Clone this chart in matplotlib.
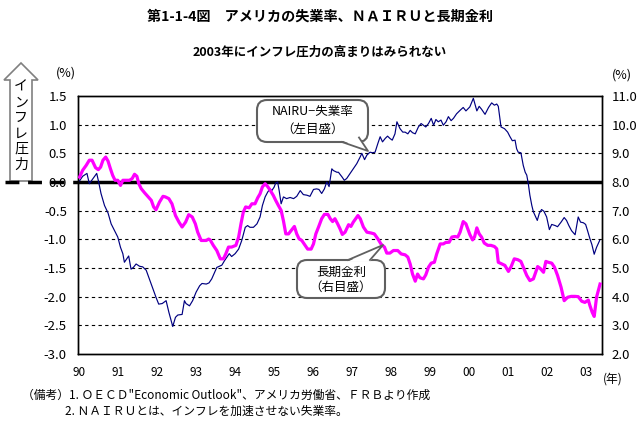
import numpy as np
import matplotlib.pyplot as plt
from matplotlib.patches import Polygon, FancyBboxPatch

plt.rcParams['font.family'] = ['Noto Sans CJK JP', 'DejaVu Sans']

# NAIRU - unemployment rate (left scale, %)
gap_t = [1990.01, 1990.09, 1990.20, 1990.26, 1990.45, 1990.50, 1990.56, 1990.65, 1990.74, 1990.82,
         1990.91, 1990.99, 1991.06, 1991.12, 1991.16, 1991.22, 1991.27, 1991.33, 1991.39, 1991.46,
         1991.55, 1991.63, 1991.72, 1991.80, 1991.89, 1991.97, 1992.04, 1992.13, 1992.23, 1992.30,
         1992.40, 1992.47, 1992.53, 1992.64, 1992.70, 1992.74, 1992.83, 1992.91, 1993.00, 1993.09,
         1993.15, 1993.26, 1993.33, 1993.40, 1993.53, 1993.66, 1993.73, 1993.79, 1993.85, 1993.91,
         1994.00, 1994.09, 1994.17, 1994.26, 1994.32, 1994.38, 1994.47, 1994.56, 1994.64, 1994.70,
         1994.77, 1994.84, 1994.90, 1994.94, 1995.00, 1995.04, 1995.09, 1995.13, 1995.18, 1995.24,
         1995.32, 1995.41, 1995.50, 1995.58, 1995.67, 1995.75, 1995.84, 1995.92, 1996.01, 1996.09,
         1996.15, 1996.22, 1996.29, 1996.35, 1996.41, 1996.48, 1996.52, 1996.61, 1996.65, 1996.74,
         1996.80, 1996.86, 1996.95, 1997.03, 1997.12, 1997.21, 1997.25, 1997.32, 1997.38, 1997.46,
         1997.52, 1997.59, 1997.66, 1997.72, 1997.78, 1997.85, 1997.91, 1997.97, 1998.03, 1998.10,
         1998.15, 1998.23, 1998.30, 1998.36, 1998.43, 1998.49, 1998.55, 1998.62, 1998.70, 1998.77,
         1998.83, 1998.89, 1998.96, 1999.03, 1999.09, 1999.15, 1999.21, 1999.28, 1999.34, 1999.41,
         1999.47, 1999.54, 1999.60, 1999.68, 1999.77, 1999.85, 1999.92, 2000.02, 2000.05, 2000.11,
         2000.20, 2000.26, 2000.32, 2000.41, 2000.50, 2000.58, 2000.65, 2000.71, 2000.75, 2000.82,
         2000.91, 2000.99, 2001.05, 2001.11, 2001.18, 2001.22, 2001.26, 2001.33, 2001.39, 2001.44,
         2001.48, 2001.52, 2001.56, 2001.61, 2001.65, 2001.69, 2001.75, 2001.80, 2001.86, 2001.92,
         2001.99, 2002.06, 2002.12, 2002.21, 2002.27, 2002.36, 2002.44, 2002.50, 2002.56, 2002.63,
         2002.72, 2002.80, 2002.86, 2002.93, 2002.99, 2003.04, 2003.10, 2003.15, 2003.21, 2003.27,
         2003.35]
gap = [0.02, 0.10, 0.15, -0.03, 0.15, 0.00, -0.20, -0.41, -0.54, -0.73,
       -0.85, -0.96, -1.14, -1.25, -1.40, -1.34, -1.29, -1.52, -1.49, -1.43,
       -1.47, -1.48, -1.54, -1.69, -1.86, -2.01, -2.13, -2.12, -2.07, -2.27,
       -2.52, -2.36, -2.32, -2.31, -2.07, -2.12, -2.16, -2.07, -1.92, -1.81,
       -1.77, -1.78, -1.76, -1.69, -1.49, -1.45, -1.37, -1.31, -1.25, -1.30,
       -1.25, -1.17, -1.02, -0.79, -0.76, -0.79, -0.79, -0.73, -0.61, -0.41,
       -0.26, -0.17, -0.12, -0.15, -0.09, -0.02, 0.00, -0.15, -0.38, -0.26,
       -0.29, -0.27, -0.29, -0.25, -0.15, -0.22, -0.23, -0.25, -0.13, -0.12,
       -0.13, -0.20, -0.12, 0.00, -0.08, 0.23, 0.20, 0.17, 0.17, 0.09,
       0.03, 0.06, 0.15, 0.23, 0.32, 0.44, 0.50, 0.39, 0.47, 0.52,
       0.51, 0.52, 0.67, 0.79, 0.70, 0.76, 0.80, 0.76, 0.73, 0.84,
       1.05, 0.93, 0.87, 0.87, 0.84, 0.90, 0.86, 0.84, 0.96, 1.02,
       0.99, 0.96, 1.02, 1.11, 0.99, 1.09, 1.05, 1.08, 0.99, 1.05,
       1.14, 1.07, 1.11, 1.19, 1.25, 1.30, 1.24, 1.31, 1.36, 1.46,
       1.24, 1.32, 1.27, 1.18, 1.30, 1.38, 1.34, 1.36, 1.32, 0.96,
       0.93, 0.87, 0.79, 0.72, 0.73, 0.58, 0.52, 0.51, 0.29, 0.17,
       0.12, -0.03, -0.23, -0.41, -0.52, -0.58, -0.67, -0.55, -0.48, -0.51,
       -0.61, -0.83, -0.74, -0.76, -0.78, -0.70, -0.62, -0.67, -0.76, -0.85,
       -0.92, -0.61, -0.70, -0.71, -0.74, -0.85, -0.99, -1.09, -1.26, -1.14,
       -1.02]

# long-term interest rate (right scale, %)
rate_t = [1990.01, 1990.09, 1990.18, 1990.26, 1990.33, 1990.42, 1990.49, 1990.55, 1990.61, 1990.68,
          1990.74, 1990.80, 1990.86, 1990.92, 1990.99, 1991.06, 1991.12, 1991.21, 1991.29, 1991.36,
          1991.42, 1991.48, 1991.53, 1991.59, 1991.68, 1991.76, 1991.85, 1991.91, 1991.97, 1992.06,
          1992.15, 1992.21, 1992.30, 1992.38, 1992.47, 1992.56, 1992.64, 1992.73, 1992.81, 1992.90,
          1992.98, 1993.04, 1993.13, 1993.26, 1993.32, 1993.36, 1993.44, 1993.53, 1993.62, 1993.70,
          1993.76, 1993.83, 1993.91, 1994.02, 1994.09, 1994.15, 1994.21, 1994.27, 1994.36, 1994.43,
          1994.51, 1994.58, 1994.64, 1994.70, 1994.77, 1994.84, 1994.90, 1994.98, 1995.04, 1995.11,
          1995.18, 1995.24, 1995.30, 1995.37, 1995.44, 1995.52, 1995.58, 1995.64, 1995.71, 1995.78,
          1995.86, 1995.95, 1996.01, 1996.07, 1996.14, 1996.22, 1996.29, 1996.38, 1996.44, 1996.50,
          1996.56, 1996.63, 1996.69, 1996.75, 1996.82, 1996.91, 1996.97, 1997.03, 1997.15, 1997.21,
          1997.29, 1997.38, 1997.49, 1997.57, 1997.66, 1997.74, 1997.83, 1997.89, 1997.97, 1998.06,
          1998.17, 1998.26, 1998.36, 1998.43, 1998.49, 1998.55, 1998.62, 1998.68, 1998.74, 1998.83,
          1998.89, 1998.96, 1999.03, 1999.11, 1999.17, 1999.26, 1999.34, 1999.40, 1999.49, 1999.56,
          1999.64, 1999.71, 1999.77, 1999.85, 1999.92, 2000.02, 2000.09, 2000.14, 2000.20, 2000.26,
          2000.32, 2000.39, 2000.48, 2000.56, 2000.65, 2000.71, 2000.75, 2000.84, 2000.92, 2001.01,
          2001.08, 2001.16, 2001.25, 2001.33, 2001.39, 2001.48, 2001.56, 2001.65, 2001.71, 2001.76,
          2001.82, 2001.91, 2001.97, 2002.03, 2002.12, 2002.19, 2002.27, 2002.36, 2002.44, 2002.53,
          2002.62, 2002.72, 2002.80, 2002.89, 2002.97, 2003.06, 2003.10, 2003.16, 2003.21, 2003.27,
          2003.36]
rate = [8.17, 8.41, 8.58, 8.76, 8.76, 8.50, 8.43, 8.52, 8.76, 8.87,
        8.73, 8.47, 8.23, 8.06, 8.06, 7.88, 8.06, 8.06, 8.06, 8.12,
        8.27, 8.20, 7.94, 7.77, 7.62, 7.50, 7.36, 7.13, 7.03, 7.30,
        7.50, 7.48, 7.42, 7.24, 6.83, 6.60, 6.43, 6.60, 6.86, 6.78,
        6.54, 6.25, 5.96, 5.96, 6.01, 5.98, 5.79, 5.61, 5.32, 5.32,
        5.49, 5.73, 5.73, 5.79, 6.08, 6.54, 6.95, 7.13, 7.10, 7.24,
        7.24, 7.45, 7.59, 7.83, 7.94, 7.83, 7.71, 7.53, 7.36, 7.18,
        7.01, 6.64, 6.19, 6.19, 6.31, 6.45, 6.19, 6.02, 5.96, 5.82,
        5.66, 5.66, 5.84, 6.19, 6.43, 6.72, 6.87, 6.87, 6.72, 6.62,
        6.72, 6.54, 6.37, 6.17, 6.25, 6.51, 6.45, 6.60, 6.83, 6.72,
        6.43, 6.25, 6.22, 6.19, 6.02, 5.84, 5.73, 5.52, 5.52, 5.61,
        5.61, 5.49, 5.46, 5.38, 5.14, 4.79, 4.54, 4.79, 4.66, 4.62,
        4.76, 5.03, 5.17, 5.20, 5.49, 5.84, 5.84, 5.89, 5.90, 6.08,
        6.10, 6.08, 6.25, 6.62, 6.54, 6.17, 5.98, 6.08, 6.40, 6.19,
        6.08, 5.87, 5.79, 5.79, 5.75, 5.67, 5.20, 5.14, 5.09, 4.88,
        5.05, 5.32, 5.29, 5.23, 5.03, 4.74, 4.56, 4.62, 4.85, 5.05,
        4.99, 4.85, 5.23, 5.20, 5.17, 5.03, 4.74, 4.33, 3.86, 3.98,
        4.01, 4.01, 4.00, 3.84, 3.80, 3.88, 3.69, 3.45, 3.31, 3.98,
        4.44]

years = list(range(1990, 2004))
year_labels = ['90', '91', '92', '93', '94', '95', '96', '97', '98', '99', '00', '01', '02', '03']
left_ticks = [-3.0, -2.5, -2.0, -1.5, -1.0, -0.5, 0.0, 0.5, 1.0, 1.5]
right_ticks = [2.0, 3.0, 4.0, 5.0, 6.0, 7.0, 8.0, 9.0, 10.0, 11.0]

W, H = 639, 426
fig = plt.figure(figsize=(W / 100, H / 100), dpi=100)
ax = fig.add_axes([78 / W, 1 - 354 / H, 524 / W, 258 / H])
ax2 = ax.twinx()

for v in left_ticks[1:-1]:
    if v != 0:
        ax.axhline(v, color='black', lw=0.8, ls=(0, (3, 3)), zorder=1)
ax.axhline(0, color='black', lw=2.5, zorder=2)

ax.plot(gap_t, gap, color='#000080', lw=0.85, zorder=3)
ax2.plot(rate_t, rate, color='#ff00ff', lw=2.3, zorder=3)

ax.set_xlim(1989.97, 2003.41)
ax.set_ylim(-3.0, 1.5)
ax2.set_ylim(2.0, 11.0)

ax.set_xticks(years, year_labels)
ax.set_yticks(left_ticks, ['%.1f' % v for v in left_ticks])
ax2.set_yticks(right_ticks, ['%.1f' % v for v in right_ticks])
ax.tick_params(axis='x', length=0, pad=9, labelsize=8.5)
ax.tick_params(axis='y', length=0, pad=8, labelsize=9.5)
ax2.tick_params(axis='y', length=0, pad=7, labelsize=9.5)
for a in (ax, ax2):
    for s in a.spines.values():
        s.set_linewidth(1.0)

# overlay in pixel coordinates for the decorations
ov = fig.add_axes([0, 0, 1, 1], zorder=10)
ov.set_xlim(0, W)
ov.set_ylim(H, 0)
ov.axis('off')
ov.patch.set_visible(False)

# inflation pressure arrow
ov.add_patch(Polygon([(21, 63), (38, 80), (32, 80), (32, 181), (10, 181), (10, 80), (4, 80)],
                     closed=True, fc='white', ec='#808080', lw=1.2))
for i, ch in enumerate('インフレ圧力'):
    ov.text(21, 87 + i * 15.5, ch, ha='center', va='center', fontsize=10)
ov.plot([5, 78], [181.5, 181.5], color='black', lw=2.5, ls=(0, (4, 2.5)), solid_capstyle='butt')

# callout: NAIRU
ov.add_patch(FancyBboxPatch((257, 100), 111, 42, boxstyle='round,pad=0,rounding_size=10',
                            fc='white', ec='#606060', lw=1.5))
ov.add_patch(Polygon([(342, 140.5), (359, 136.5), (368, 151)], closed=True, fc='white', ec='none'))
ov.plot([342, 368, 359], [142, 151, 137.5], color='#606060', lw=1.3)
ov.text(312.5, 111, 'NAIRU−失業率', ha='center', va='center', fontsize=9)
ov.text(312.5, 129, '（左目盛）', ha='center', va='center', fontsize=9)

# callout: long-term rate
ov.add_patch(FancyBboxPatch((297, 260), 88, 38, boxstyle='round,pad=0,rounding_size=10',
                            fc='white', ec='#606060', lw=1.5))
ov.add_patch(Polygon([(348, 261.5), (370, 261.5), (383, 245)], closed=True, fc='white', ec='none'))
ov.plot([348, 383, 370], [260, 245, 260], color='#606060', lw=1.3)
ov.text(341, 272, '長期金利', ha='center', va='center', fontsize=9)
ov.text(341, 287, '（右目盛）', ha='center', va='center', fontsize=9)

# titles, units, notes
ov.text(320, 17, '第1-1-4図　アメリカの失業率、ＮＡＩＲＵと長期金利', ha='center', va='center',
        fontsize=10.2, fontweight='bold')
ov.text(320, 52, '2003年にインフレ圧力の高まりはみられない', ha='center', va='center',
        fontsize=9, fontweight='bold')
ov.text(66, 73, '(%)', ha='center', va='center', fontsize=9)
ov.text(622, 75, '(%)', ha='center', va='center', fontsize=9)
ov.text(613, 379, '(年)', ha='center', va='center', fontsize=8.5)
ov.text(22, 395, '（備考）1. ＯＥＣＤ"Economic Outlook"、アメリカ労働省、ＦＲＢより作成',
        ha='left', va='center', fontsize=8.5)
ov.text(65, 411, '2. ＮＡＩＲＵとは、インフレを加速させない失業率。', ha='left', va='center', fontsize=8.5)

fig.savefig('out.png', dpi=100)
